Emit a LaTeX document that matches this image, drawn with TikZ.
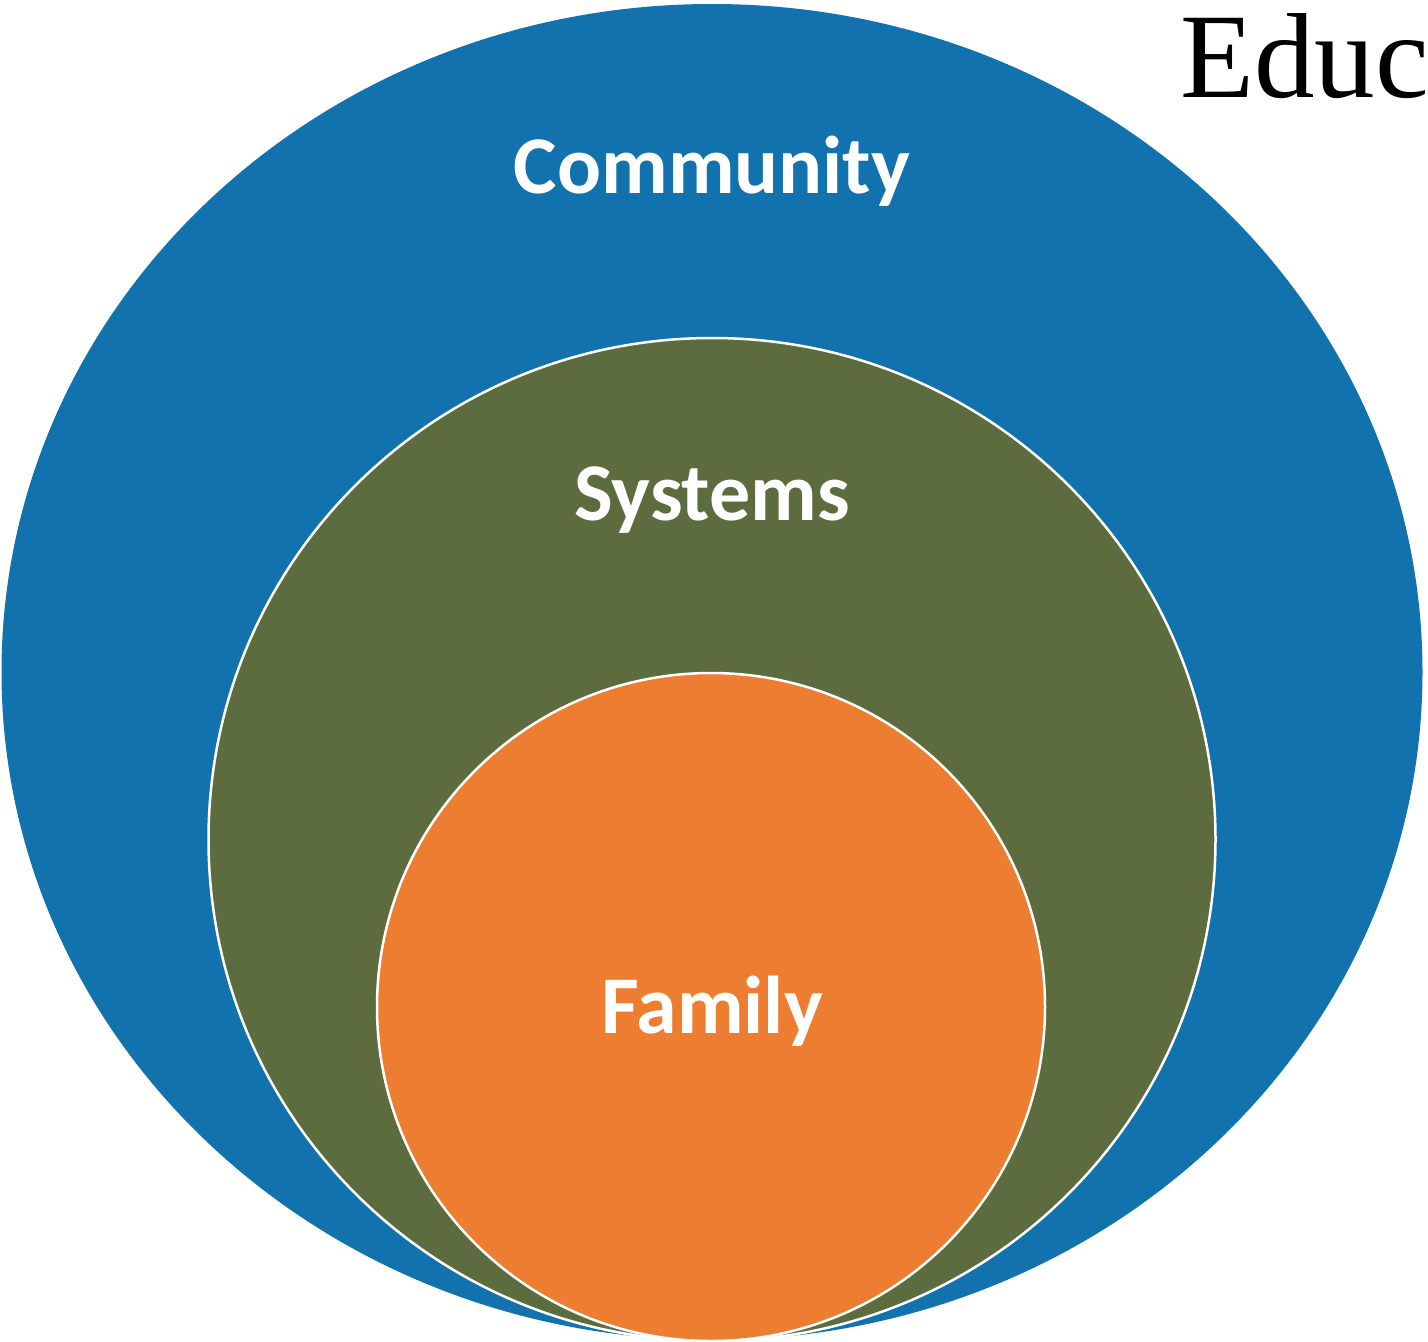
\documentclass[tikz,border=0pt]{standalone}
\usepackage{fontspec}
\setmainfont{Carlito}
\newfontfamily\serifed{Liberation Serif}
\definecolor{cblue}{RGB}{17,114,174}
\definecolor{cgreen}{RGB}{93,108,62}
\definecolor{corange}{RGB}{237,125,49}
\begin{document}
\begin{tikzpicture}[x=1pt,y=-1pt,
  ring/.style={draw=white,line width=2.5pt},
  lbl/.style={text=white,font=\fontsize{82}{90}\selectfont\bfseries,anchor=base,inner sep=0pt}]
\useasboundingbox (0,0) rectangle (1428,1342);
\fill[cblue] (712,672) ellipse [x radius=710.5, y radius=668];
\filldraw[fill=cgreen,ring] (712,839.5) ellipse [x radius=503.5, y radius=501.5];
\filldraw[fill=corange,ring] (711,1007) ellipse [x radius=334, y radius=334];
\node[lbl] (community) at (712,193) {Community};
\node[lbl] (systems) at (712,520) {Systems};
\node[lbl] (family) at (712,1033) {Family};
\node[anchor=base west,inner sep=0pt,font=\serifed\fontsize{121}{130}\selectfont] (educ) at (1180,97) {Educ};
\end{tikzpicture}
\end{document}
